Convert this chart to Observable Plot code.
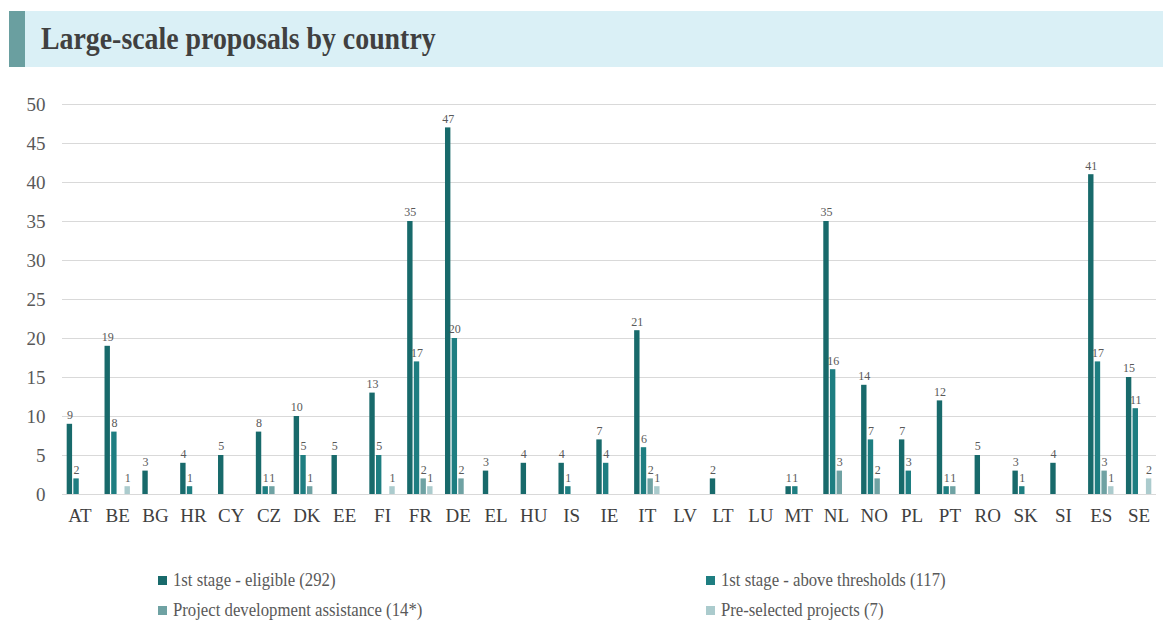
<!DOCTYPE html>
<html><head><meta charset="utf-8">
<script src="https://cdn.jsdelivr.net/npm/d3@7"></script>
<script src="https://cdn.jsdelivr.net/npm/@observablehq/plot@0.6"></script>
<style>
body{margin:0;width:1163px;height:624px;background:#fff;position:relative;overflow:hidden;font-family:"Liberation Serif","Times New Roman",serif;}
#title{position:absolute;left:9px;top:11px;width:1154px;height:56px;background:#daf0f6;}
#title .blk{position:absolute;left:0;top:0;width:16px;height:56px;background:#6a9fa0;}
#title .txt{position:absolute;left:32px;top:8px;font-weight:bold;font-size:32px;line-height:38px;color:#404040;white-space:nowrap;transform:scaleX(0.87);transform-origin:0 0;}
#grid,#chart{position:absolute;left:0;top:80px;}
.lg{position:absolute;font-size:19px;color:#595959;line-height:20px;white-space:nowrap;}
.lg i{display:inline-block;width:9px;height:9px;margin-right:6px;vertical-align:1px;}
.lg span{display:inline-block;transform:scaleX(0.88);transform-origin:0 50%;}
</style>
</head><body>
<div id="title"><div class="blk"></div><div class="txt">Large-scale proposals by country</div></div>
<div id="grid"></div>
<div id="chart"></div>
<div id="legend"></div>
<script>
const countries = ["AT","BE","BG","HR","CY","CZ","DK","EE","FI","FR","DE","EL","HU","IS","IE","IT","LV","LT","LU","MT","NL","NO","PL","PT","RO","SK","SI","ES","SE"];
const seriesNames = ["1st stage - eligible (292)","1st stage - above thresholds (117)","Project development assistance (14*)","Pre-selected projects (7)"];
const seriesColors = ["#186a6b","#1e7e81","#6fa2a3","#abcbcd"];
const eligible   = [9,19,3,4,5,8,10,5,13,35,47,3,4,4,7,21,null,2,null,1,35,14,7,12,5,3,4,41,15];
const above      = [2,8,null,1,null,1,5,null,5,17,20,null,null,1,4,6,null,null,null,1,16,7,3,1,null,1,null,17,11];
const pda        = [null,null,null,null,null,1,1,null,null,2,2,null,null,null,null,2,null,null,null,null,3,2,null,1,null,null,null,3,null];
const preselected= [null,1,null,null,null,null,null,null,1,1,null,null,null,null,null,1,null,null,null,null,null,null,null,null,null,null,null,1,2];
const yTicks = [0,5,10,15,20,25,30,35,40,45,50];

const seriesValues = [eligible, above, pda, preselected];
const rows = [];
countries.forEach((c, i) => {
  seriesValues.forEach((vals, s) => {
    if (vals[i] != null) rows.push({country: c, series: seriesNames[s], value: vals[i]});
  });
});

const common = {
  width: 1163,
  height: 460,
  marginTop: 24,
  marginBottom: 46,
  marginLeft: 62,
  marginRight: 7,
  style: {fontFamily: "'Liberation Serif','Times New Roman',serif", background: "transparent", color: "#595959"}
};

// background layer: gridlines and y axis spanning the whole plot area
const grid = Plot.plot({
  ...common,
  x: {axis: null},
  y: {domain: [0, 50], label: null},
  marks: [
    Plot.ruleY(yTicks, {stroke: "#d9d9d9", strokeWidth: 1}),
    Plot.axisY(yTicks, {tickSize: 0, tickPadding: 17, fontSize: 19, color: "#595959", label: null})
  ]
});
document.getElementById("grid").appendChild(grid);

// foreground layer: grouped bars faceted by country
const chart = Plot.plot({
  ...common,
  fx: {domain: countries, paddingInner: 0.329, paddingOuter: 0.124, round: false, label: null},
  x: {domain: seriesNames, paddingInner: 0.19, paddingOuter: 0, round: false, axis: null},
  y: {domain: [0, 50], axis: null},
  color: {domain: seriesNames, range: seriesColors},
  marks: [
    Plot.axisFx({tickSize: 0, tickPadding: 14, fontSize: 19, color: "#404040", label: null, anchor: "bottom"}),
    Plot.barY(rows, {fx: "country", x: "series", y: "value", fill: "series"}),
    Plot.text(rows, {fx: "country", x: "series", y: "value", text: d => String(d.value), dy: -9, fontSize: 12, fill: "#595959"})
  ]
});
document.getElementById("chart").appendChild(chart);

const legend = document.getElementById("legend");
const pos = [[158,570],[706,570],[158,600],[706,600]];
seriesNames.forEach((n, i) => {
  const d = document.createElement("div");
  d.className = "lg";
  d.style.left = pos[i][0] + "px";
  d.style.top = pos[i][1] + "px";
  d.innerHTML = `<i style="background:${seriesColors[i]}"></i><span>${n}</span>`;
  legend.appendChild(d);
});
</script>
</body></html>
